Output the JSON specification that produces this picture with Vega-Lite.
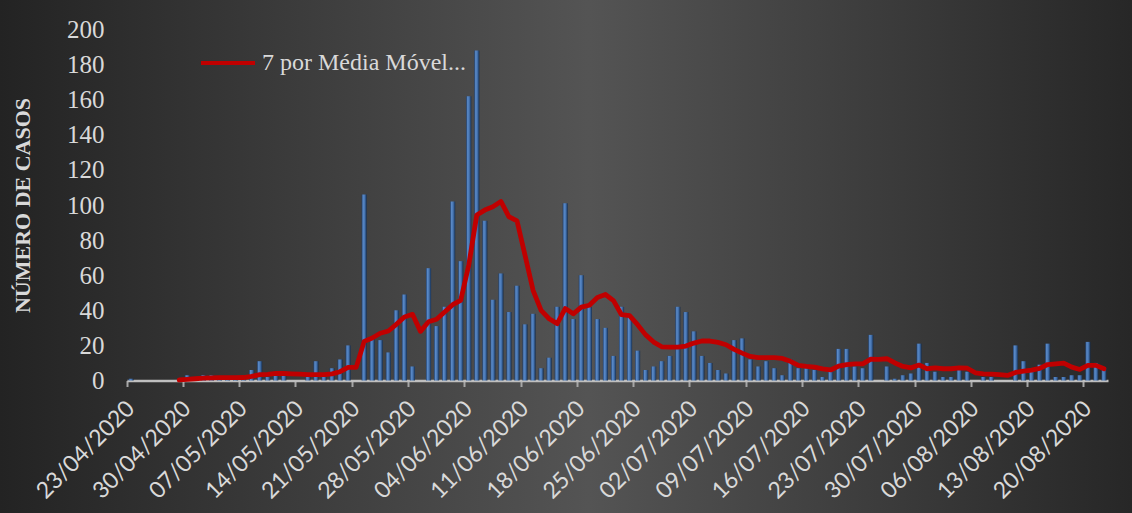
{
  "$schema": "https://vega.github.io/schema/vega-lite/v6.json",
  "width": 1132,
  "height": 513,
  "autosize": {"type": "none"},
  "padding": 0,
  "background": "#333333",
  "config": {
    "view": {
      "stroke": null,
      "fill": {"gradient": "linear", "x1": 0, "y1": 0, "x2": 1, "y2": 0,
        "stops": [{"offset": 0, "color": "#232323"}, {"offset": 0.52, "color": "#545454"}, {"offset": 1, "color": "#272727"}]}
    },
    "axisY": {
      "values": [0,20,40,60,80,100,120,140,160,180,200],
      "offset": -127,
      "domain": false,
      "ticks": false,
      "grid": false,
      "labelFont": "Liberation Serif",
      "labelFontSize": 25,
      "labelColor": "#d9d9d9",
      "labelPadding": 23,
      "titleFont": "Liberation Serif",
      "titleFontSize": 22,
      "titleFontWeight": "bold",
      "titleColor": "#d9d9d9",
      "titlePadding": 32
    }
  },
  "data": {"values": [
    {"d":"23/04/2020","v":1,"m":null},{"d":"24/04/2020","v":0,"m":null},{"d":"25/04/2020","v":0,"m":null},{"d":"26/04/2020","v":0,"m":null},
    {"d":"27/04/2020","v":0,"m":null},{"d":"28/04/2020","v":0,"m":null},{"d":"29/04/2020","v":0,"m":0.3},{"d":"30/04/2020","v":3,"m":0.6},
    {"d":"01/05/2020","v":1,"m":1.0},{"d":"02/05/2020","v":3,"m":1.3},{"d":"03/05/2020","v":3,"m":1.5},{"d":"04/05/2020","v":1,"m":1.6},
    {"d":"05/05/2020","v":1,"m":1.6},{"d":"06/05/2020","v":1,"m":1.6},{"d":"07/05/2020","v":1,"m":1.7},{"d":"08/05/2020","v":6,"m":2.3},
    {"d":"09/05/2020","v":11,"m":3.3},{"d":"10/05/2020","v":2,"m":3.5},{"d":"11/05/2020","v":3,"m":4.0},{"d":"12/05/2020","v":3,"m":4.0},
    {"d":"13/05/2020","v":0,"m":3.8},{"d":"14/05/2020","v":0,"m":3.6},{"d":"15/05/2020","v":2,"m":3.4},{"d":"16/05/2020","v":11,"m":3.4},
    {"d":"17/05/2020","v":2,"m":3.4},{"d":"18/05/2020","v":7,"m":3.8},{"d":"19/05/2020","v":12,"m":5.0},{"d":"20/05/2020","v":20,"m":7.5},
    {"d":"21/05/2020","v":0,"m":7.5},{"d":"22/05/2020","v":106,"m":22.3},{"d":"23/05/2020","v":24,"m":24.2},{"d":"24/05/2020","v":23,"m":26.9},
    {"d":"25/05/2020","v":16,"m":28.2},{"d":"26/05/2020","v":40,"m":32},{"d":"27/05/2020","v":49,"m":36.2},{"d":"28/05/2020","v":8,"m":37.7},
    {"d":"29/05/2020","v":0,"m":28},{"d":"30/05/2020","v":64,"m":33.5},{"d":"31/05/2020","v":31,"m":34.9},{"d":"01/06/2020","v":42,"m":39},
    {"d":"02/06/2020","v":102,"m":43.2},{"d":"03/06/2020","v":68,"m":45.7},{"d":"04/06/2020","v":162,"m":65.7},{"d":"05/06/2020","v":188,"m":94.3},
    {"d":"06/06/2020","v":91,"m":97.1},{"d":"07/06/2020","v":46,"m":99},{"d":"08/06/2020","v":61,"m":102},{"d":"09/06/2020","v":39,"m":93.3},
    {"d":"10/06/2020","v":54,"m":91},{"d":"11/06/2020","v":32,"m":71.4},{"d":"12/06/2020","v":38,"m":51.4},{"d":"13/06/2020","v":7,"m":40},
    {"d":"14/06/2020","v":13,"m":35.2},{"d":"15/06/2020","v":42,"m":32.4},{"d":"16/06/2020","v":101,"m":41},{"d":"17/06/2020","v":35,"m":38},
    {"d":"18/06/2020","v":60,"m":41.8},{"d":"19/06/2020","v":42,"m":42.9},{"d":"20/06/2020","v":35,"m":47.3},{"d":"21/06/2020","v":30,"m":49},
    {"d":"22/06/2020","v":14,"m":45.5},{"d":"23/06/2020","v":42,"m":37.5},{"d":"24/06/2020","v":36,"m":37},{"d":"25/06/2020","v":17,"m":31.8},
    {"d":"26/06/2020","v":6,"m":26},{"d":"27/06/2020","v":8,"m":21.9},{"d":"28/06/2020","v":11,"m":19.2},{"d":"29/06/2020","v":14,"m":19},
    {"d":"30/06/2020","v":42,"m":19},{"d":"01/07/2020","v":39,"m":19.6},{"d":"02/07/2020","v":28,"m":21.3},{"d":"03/07/2020","v":14,"m":22.5},
    {"d":"04/07/2020","v":10,"m":22.5},{"d":"05/07/2020","v":6,"m":21.7},{"d":"06/07/2020","v":4,"m":20.4},{"d":"07/07/2020","v":23,"m":17.7},
    {"d":"08/07/2020","v":24,"m":15.6},{"d":"09/07/2020","v":12,"m":13.7},{"d":"10/07/2020","v":8,"m":13},{"d":"11/07/2020","v":11,"m":13},
    {"d":"12/07/2020","v":7,"m":13},{"d":"13/07/2020","v":3,"m":12.6},{"d":"14/07/2020","v":12,"m":10.9},{"d":"15/07/2020","v":7,"m":8.6},
    {"d":"16/07/2020","v":7,"m":8},{"d":"17/07/2020","v":6,"m":7.6},{"d":"18/07/2020","v":2,"m":6.6},{"d":"19/07/2020","v":5,"m":6},
    {"d":"20/07/2020","v":18,"m":8.2},{"d":"21/07/2020","v":18,"m":9.1},{"d":"22/07/2020","v":8,"m":9.5},{"d":"23/07/2020","v":7,"m":9.5},
    {"d":"24/07/2020","v":26,"m":12.2},{"d":"25/07/2020","v":0,"m":12},{"d":"26/07/2020","v":8,"m":12.4},{"d":"27/07/2020","v":1,"m":10},
    {"d":"28/07/2020","v":3,"m":8},{"d":"29/07/2020","v":4,"m":7.2},{"d":"30/07/2020","v":21,"m":8.8},{"d":"31/07/2020","v":10,"m":6.7},
    {"d":"01/08/2020","v":5,"m":7.2},{"d":"02/08/2020","v":2,"m":6.7},{"d":"03/08/2020","v":2,"m":6.7},{"d":"04/08/2020","v":6,"m":7.2},
    {"d":"05/08/2020","v":5,"m":7},{"d":"06/08/2020","v":0,"m":4.4},{"d":"07/08/2020","v":2,"m":3.8},{"d":"08/08/2020","v":2,"m":3.6},
    {"d":"09/08/2020","v":0,"m":3.4},{"d":"10/08/2020","v":0,"m":2.9},{"d":"11/08/2020","v":20,"m":4.6},{"d":"12/08/2020","v":11,"m":5.3},
    {"d":"13/08/2020","v":5,"m":5.9},{"d":"14/08/2020","v":9,"m":6.9},{"d":"15/08/2020","v":21,"m":9.1},{"d":"16/08/2020","v":2,"m":9.5},
    {"d":"17/08/2020","v":2,"m":9.9},{"d":"18/08/2020","v":3,"m":7.6},{"d":"19/08/2020","v":3,"m":6.3},{"d":"20/08/2020","v":22,"m":8.6},
    {"d":"21/08/2020","v":10,"m":8.6},{"d":"22/08/2020","v":7,"m":6.7}
  ]},
  "encoding": {
    "x": {
      "field": "d", "type": "ordinal", "sort": null,
      "scale": {"range": [127, 1108], "paddingInner": 0, "paddingOuter": 0},
      "axis": {
        "values": ["23/04/2020","30/04/2020","07/05/2020","14/05/2020","21/05/2020","28/05/2020","04/06/2020","11/06/2020","18/06/2020","25/06/2020","02/07/2020","09/07/2020","16/07/2020","23/07/2020","30/07/2020","06/08/2020","13/08/2020","20/08/2020"],
        "bandPosition": 0,
        "offset": -132.5,
        "title": null,
        "grid": false,
        "labelAngle": -45,
        "labelAlign": "right",
        "labelBaseline": "middle",
        "labelFont": "Lato",
        "labelFontSize": 23,
        "labelColor": "#d9d9d9",
        "labelPadding": 18,
        "labelOverlap": false,
        "labelBound": false,
        "domainColor": "#bfbfbf",
        "domainWidth": 2.5,
        "tickColor": "#a6a6a6",
        "tickWidth": 2,
        "tickSize": 6
      }
    }
  },
  "layer": [
    {
      "mark": {
        "type": "bar",
        "width": {"band": 0.64},
        "fill": {"gradient": "linear", "x1": 0, "y1": 0, "x2": 1, "y2": 0,
          "stops": [{"offset": 0, "color": "#1f3c66"}, {"offset": 0.28, "color": "#5a89c6"}, {"offset": 0.58, "color": "#4777b6"}, {"offset": 1, "color": "#162d4c"}]}
      },
      "encoding": {
        "y": {
          "field": "v", "type": "quantitative",
          "scale": {"domain": [0, 200], "range": [380.5, 29.5]},
          "title": "NÚMERO DE CASOS"
        }
      }
    },
    {
      "mark": {"type": "line", "strokeWidth": 4.8, "strokeJoin": "round", "strokeCap": "round", "invalid": "break-paths-show-domains"},
      "encoding": {
        "y": {"field": "m", "type": "quantitative", "title": "NÚMERO DE CASOS"},
        "color": {
          "datum": "7 por Média Móvel...",
          "scale": {"range": ["#c00000"]},
          "legend": {
            "orient": "none",
            "legendX": 199,
            "legendY": 34,
            "title": null,
            "padding": 0,
            "symbolType": "stroke",
            "symbolStrokeWidth": 4,
            "symbolSize": 2916,
            "labelFont": "Liberation Serif",
            "labelFontSize": 24,
            "labelColor": "#d9d9d9",
            "labelOffset": 5,
            "labelLimit": 400
          }
        }
      }
    }
  ]
}
